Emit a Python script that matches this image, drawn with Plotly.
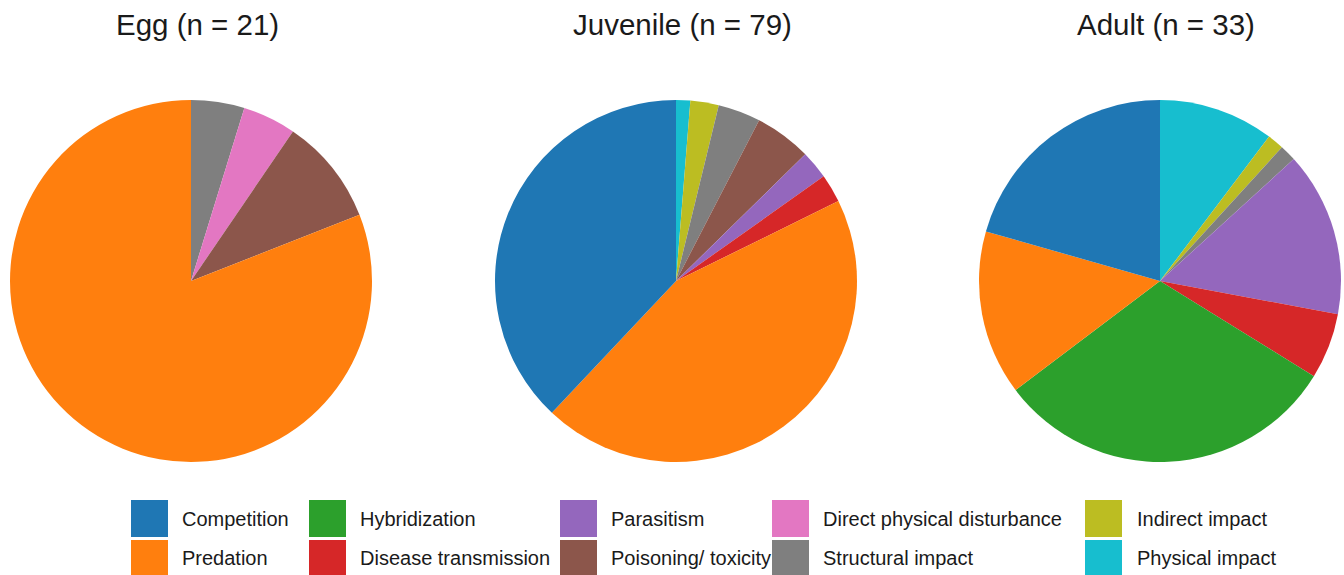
import plotly.graph_objects as go

labels = ["Competition", "Predation", "Hybridization", "Disease transmission",
          "Parasitism", "Poisoning/ toxicity", "Direct physical disturbance",
          "Structural impact", "Indirect impact", "Physical impact"]
colors = ["#1f77b4", "#ff7f0e", "#2ca02c", "#d62728", "#9467bd",
          "#8c564b", "#e377c2", "#7f7f7f", "#bcbd22", "#17becf"]

titles = ["Egg (n = 21)", "Juvenile (n = 79)", "Adult (n = 33)"]
egg = [0, 17, 0, 0, 0, 2, 1, 1, 0, 0]
juvenile = [30, 35, 0, 2, 2, 4, 0, 3, 2, 1]
adult = [7, 5, 10.5, 2, 5, 0, 0, 0.5, 0.5, 3.5]
series = [egg, juvenile, adult]

W, H = 1344, 575
centers = [191, 676, 1160]
cy, R = 281, 181

fig = go.Figure()
for cx, vals, t in zip(centers, series, titles):
    fig.add_trace(go.Pie(
        labels=labels[::-1], values=vals[::-1], sort=False, direction="clockwise",
        rotation=0, textinfo="none", hoverinfo="label+value+percent",
        marker=dict(colors=colors[::-1], line=dict(width=0)),
        domain=dict(x=[(cx - R) / W, (cx + R) / W],
                    y=[(H - cy - R) / H, (H - cy + R) / H]),
        showlegend=False,
    ))
    fig.add_annotation(text=t, x=(cx + 6) / W, y=(H - 25) / H, xref="paper", yref="paper",
                       showarrow=False, xanchor="center", yanchor="middle",
                       font=dict(size=29.5, color="#1a1a1a", family="Liberation Sans, Arial"))

# custom legend: 5 columns x 2 rows
col_sw = [131, 309, 560, 772, 1085]
col_tx = [180, 358, 609, 821, 1135]
row_y = [(500, 537), (540, 575)]
for i, (lab, col) in enumerate(zip(labels, colors)):
    c, r = divmod(i, 2)
    y0, y1 = row_y[r]
    fig.add_shape(type="rect", xref="paper", yref="paper",
                  x0=col_sw[c] / W, x1=(col_sw[c] + 37) / W,
                  y0=(H - y1) / H, y1=(H - y0) / H,
                  fillcolor=col, line=dict(width=0))
    fig.add_annotation(text=lab, x=col_tx[c] / W, y=(H - (y0 + y1) / 2) / H,
                       xref="paper", yref="paper", showarrow=False,
                       xanchor="left", yanchor="middle",
                       font=dict(size=20, color="#1a1a1a", family="Liberation Sans, Arial"))

fig.update_layout(width=W, height=H, margin=dict(l=0, r=0, t=0, b=0),
                  paper_bgcolor="white", plot_bgcolor="white")
fig.write_html("out.html", config={"displayModeBar": False},
               post_script="document.body.style.margin='0';")
